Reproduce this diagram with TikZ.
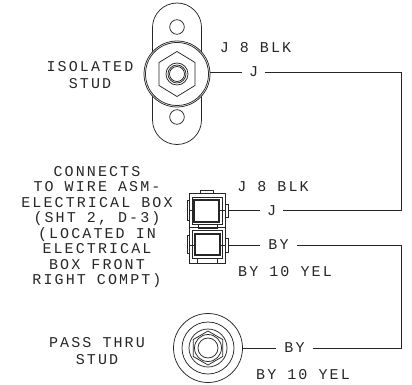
\documentclass[tikz,border=0pt]{standalone}
\usepackage{fontspec}
\setmainfont{Liberation Mono}[LetterSpace=14]
\tikzset{
  line/.style={draw=black!85,line width=0.75pt},
  lab/.style={inner sep=0pt,font=\fontsize{15}{17}\selectfont,align=center,text=black!85},
  wirelab/.style={lab,anchor=center,outer sep=0pt},
}
\begin{document}
\begin{tikzpicture}[x=1pt,y=-1pt]
\useasboundingbox (0,0) rectangle (412,385);
% isolated stud
\draw[line] (152.5,27.5) arc[start angle=180,end angle=360,radius=24.5] -- (201.5,120) arc[start angle=0,end angle=180,radius=24.5] -- cycle;
\filldraw[line,fill=white] (177,74) circle[radius=33];
\draw[line] (177,74) circle[radius=31.5];
\draw[line] (177,27) circle[radius=7.3];
\draw[line] (177,117) circle[radius=7.3];
\draw[line] (177,51.5) -- (195,62.5) -- (195,85.5) -- (177,96.5) -- (159,85.5) -- (159,62.5) -- cycle;
\draw[line] (177,74) circle[radius=11] (177,74) circle[radius=9] (177,74) circle[radius=7.5];
\coordinate (studA) at (210,72);
% connector
\draw[line] (189,193) rectangle (225,263);
\draw[line] (200,190) rectangle (213,193);
\draw[line] (197,258) rectangle (217,263);
\draw[line] (192,197) rectangle (222,224);
\draw[line,line width=1.2pt] (194,200) rectangle (219,222);
\draw[line] (198,224) rectangle (217,228);
\draw[line] (189,227) -- (225,227);
\draw[line] (192,230) rectangle (222,258);
\draw[line,line width=1.2pt] (195,234) rectangle (220,255);
\draw[line] (187.5,200) rectangle (189,220);
\draw[line] (187.5,235) rectangle (189,253);
\draw[line] (225,204) rectangle (228,217);
\draw[line] (225,238) rectangle (228,252);
\draw[line] (189,210) -- (194,210) (219,210) -- (225,210) (189,245) -- (195,245) (220,245) -- (225,245);
\coordinate (connA) at (228,210.5);
\coordinate (connB) at (228,245);
% pass thru stud
\draw[line] (208,348) circle[radius=34.5] (208,348) circle[radius=26] (208,348) circle[radius=19] (208,348) circle[radius=13.5] (208,348) circle[radius=10];
\draw[line] (208,331) -- (222.7,339.5) -- (222.7,356.5) -- (208,365) -- (193.3,356.5) -- (193.3,339.5) -- cycle;
\coordinate (studB) at (242.5,348);
% labels
\node[lab] at (90,75) {ISOLATED\\STUD};
\node[lab] at (255.5,48) {J 8 BLK};
\node[lab] at (273,187) {J 8 BLK};
\node[lab] at (285,272) {BY 10 YEL};
\node[lab] at (303,375) {BY 10 YEL};
\node[lab] at (97,351) {PASS THRU\\STUD};
\node[lab,font=\fontsize{15}{15.5}\selectfont] at (97,227) {CONNECTS\\TO WIRE ASM-\\ELECTRICAL BOX\\(SHT 2, D-3)\\(LOCATED IN\\ELECTRICAL\\BOX FRONT\\RIGHT COMPT)};
\node[wirelab,minimum width=23pt] (j1) at (253.5,72) {J};
\node[wirelab,minimum width=23pt] (j2) at (271.5,210.5) {J};
\node[wirelab,minimum width=37pt] (by1) at (278.5,245) {BY};
\node[wirelab,minimum width=37pt] (by2) at (294.5,348) {BY};
\coordinate (r1) at (401.5,72);
\coordinate (r2) at (401.5,210.5);
\coordinate (r3) at (401.5,245);
\coordinate (r4) at (401.5,348);
\draw[line] (studA) -- (j1.west);
\draw[line] (j1.east) -- (r1) -- (r2) -- (j2.east);
\draw[line] (connA) -- (j2.west);
\draw[line] (connB) -- (by1.west);
\draw[line] (by1.east) -- (r3) -- (r4) -- (by2.east);
\draw[line] (studB) -- (by2.west);
\end{tikzpicture}
\end{document}
